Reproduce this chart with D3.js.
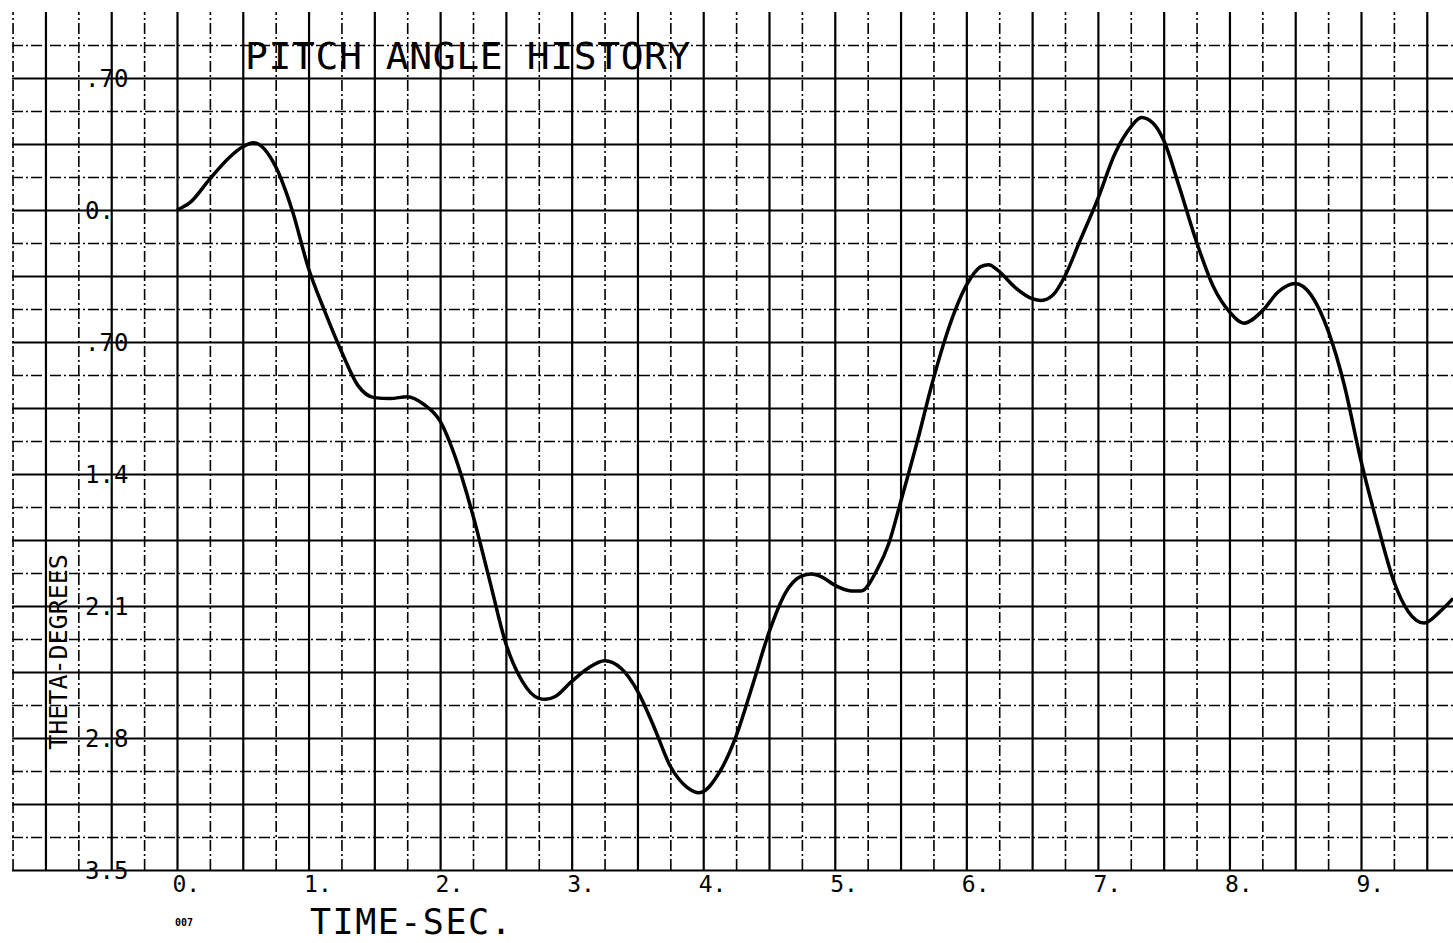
<!DOCTYPE html>
<html>
<head>
<meta charset="utf-8">
<script src="https://cdn.jsdelivr.net/npm/d3@7"></script>
<style>
  html, body { margin: 0; padding: 0; background: #fff; }
  svg { display: block; }
  text { font-family: "DejaVu Sans Mono", monospace; fill: #000; }
</style>
</head>
<body>
<svg id="chart" width="1453" height="943"></svg>
<script>
// ---- data ----
const timeSec = [0, 0.1, 0.25, 0.4, 0.5, 0.58, 0.75, 0.875, 1.0, 1.125, 1.25, 1.375, 1.5, 1.62, 1.75, 1.875,
  2.0, 2.125, 2.25, 2.375, 2.5, 2.625, 2.75, 2.8, 2.875, 3.0, 3.125, 3.25, 3.375, 3.5, 3.625, 3.75, 3.875, 3.97,
  4.125, 4.25, 4.375, 4.5, 4.625, 4.75, 4.82, 4.9, 5.0, 5.125, 5.2, 5.32, 5.41, 5.5, 5.63, 5.74, 5.85,
  6.0, 6.11, 6.17, 6.24, 6.37, 6.5, 6.57, 6.66, 6.75, 6.86, 7.0, 7.13, 7.25, 7.33, 7.42, 7.5, 7.62, 7.75, 7.88,
  8.0, 8.11, 8.25, 8.37, 8.5, 8.62, 8.75, 8.87, 9.0, 9.13, 9.25, 9.36, 9.48, 9.6, 9.7];
const thetaDeg = [0, 0.04, 0.165, 0.28, 0.335, 0.357, 0.23, 0.0, -0.31, -0.54, -0.75, -0.93, -0.995, -1.0, -0.99, -1.03,
  -1.12, -1.33, -1.62, -1.96, -2.30, -2.50, -2.59, -2.595, -2.58, -2.50, -2.43, -2.39, -2.43, -2.55, -2.74, -2.95, -3.06, -3.09,
  -2.98, -2.79, -2.52, -2.24, -2.03, -1.94, -1.93, -1.945, -1.99, -2.02, -2.02, -1.91, -1.77, -1.55, -1.22, -0.92, -0.66,
  -0.40, -0.30, -0.29, -0.32, -0.41, -0.47, -0.48, -0.45, -0.35, -0.17, 0.06, 0.30, 0.44, 0.49, 0.46, 0.37, 0.12, -0.17, -0.41,
  -0.54, -0.60, -0.535, -0.435, -0.39, -0.45, -0.64, -0.92, -1.33, -1.68, -1.97, -2.13, -2.19, -2.13, -2.06];

const xTickValues = [0, 1, 2, 3, 4, 5, 6, 7, 8, 9];
const xTickLabels = ["0.", "1.", "2.", "3.", "4.", "5.", "6.", "7.", "8.", "9."];
const yTickValues = [0.7, 0, -0.7, -1.4, -2.1, -2.8, -3.5];
const yTickLabels = [".70", "0.", ".70", "1.4", "2.1", "2.8", "3.5"];

const titleText = "PITCH ANGLE HISTORY";
const xTitle = "TIME-SEC.";
const yTitle = "THETA-DEGREES";
const cornerNote = "007";

// ---- layout ----
const W = 1453, H = 943;
const gridLeft = 12, gridTop = 12;
const svg = d3.select("#chart");

const x = d3.scaleLinear().domain([0, 9]).range([177, 1361]);
const y = d3.scaleLinear().domain([0, -3.5]).range([210, 870]);
const gridBottom = y(-3.5);

// grid positions
const tMin = x.invert(gridLeft), tMax = x.invert(W);
const vGrid = d3.range(-1.25, 9.76, 0.25).filter(t => t >= tMin - 1e-6 && t <= tMax + 0.01);
const vTop = y.invert(gridTop);
const hGrid = d3.range(0, 30).map(i => +(-3.5 + i * 0.175).toFixed(4)).filter(v => v <= vTop - 0.05);

const isMajorT = t => Math.abs(t * 2 - Math.round(t * 2)) < 1e-6;
const isMajorV = v => Math.abs(v / 0.35 - Math.round(v / 0.35)) < 1e-6;

const grid = svg.append("g");
// vertical grid through an axis
const vAxis = d3.axisBottom(x).tickValues(vGrid).tickSize(-(gridBottom - gridTop)).tickFormat("");
grid.append("g").attr("transform", `translate(0,${gridBottom})`).call(vAxis)
  .call(g => g.select(".domain").remove())
  .selectAll(".tick line")
  .attr("stroke", "#000")
  .attr("stroke-width", d => isMajorT(d) ? 2.2 : 1.6)
  .attr("stroke-dasharray", d => isMajorT(d) ? null : "11,3,2,3");

// horizontal grid through an axis
const hAxis = d3.axisLeft(y).tickValues(hGrid).tickSize(-(W - gridLeft)).tickFormat("");
grid.append("g").attr("transform", `translate(${gridLeft},0)`).call(hAxis)
  .call(g => g.select(".domain").remove())
  .selectAll(".tick line")
  .attr("stroke", "#000")
  .attr("stroke-width", d => isMajorV(d) ? 2.2 : 1.6)
  .attr("stroke-dasharray", d => isMajorV(d) ? null : "11,3,2,3");

// ---- curve ----
svg.append("clipPath").attr("id", "clip").append("rect")
  .attr("x", gridLeft).attr("y", gridTop).attr("width", W - gridLeft).attr("height", gridBottom - gridTop);
const line = d3.line()
  .x((d, i) => x(timeSec[i]))
  .y(d => y(d))
  .curve(d3.curveMonotoneX);
svg.append("path")
  .attr("clip-path", "url(#clip)")
  .attr("d", line(thetaDeg))
  .attr("fill", "none")
  .attr("stroke", "#000")
  .attr("stroke-width", 3.5)
  .attr("stroke-linejoin", "round");

// ---- tick labels via axes ----
const xLab = d3.axisBottom(x).tickValues(xTickValues).tickSize(0)
  .tickFormat((d, i) => xTickLabels[i]);
svg.append("g").attr("transform", `translate(0,${gridBottom})`).call(xLab)
  .call(g => g.select(".domain").remove())
  .selectAll("text")
  .attr("text-anchor", "start")
  .attr("dx", -5).attr("y", 22).attr("dy", 0)
  .style("font-family", "DejaVu Sans Mono")
  .style("font-size", "23px");

const yLab = d3.axisRight(y).tickValues(yTickValues).tickSize(0)
  .tickFormat((d, i) => yTickLabels[i]);
svg.append("g").attr("transform", "translate(85,0)").call(yLab)
  .call(g => g.select(".domain").remove())
  .selectAll("text")
  .attr("x", 0).attr("dy", 0).attr("y", 8)
  .attr("text-anchor", "start")
  .style("font-family", "DejaVu Sans Mono")
  .style("font-size", "24px");

// ---- titles ----
svg.append("text").attr("x", 245).attr("y", 69)
  .style("font-size", "38px").style("letter-spacing", "0.6px").text(titleText);
svg.append("text").attr("x", 310).attr("y", 934)
  .style("font-size", "35px").style("letter-spacing", "1.5px").text(xTitle);
svg.append("text")
  .attr("transform", "translate(67,652) rotate(-90)")
  .attr("text-anchor", "middle")
  .style("font-size", "25px").text(yTitle);
svg.append("text").attr("x", 175).attr("y", 926)
  .style("font-size", "10px").style("font-weight", "bold").text(cornerNote);
</script>
</body>
</html>
